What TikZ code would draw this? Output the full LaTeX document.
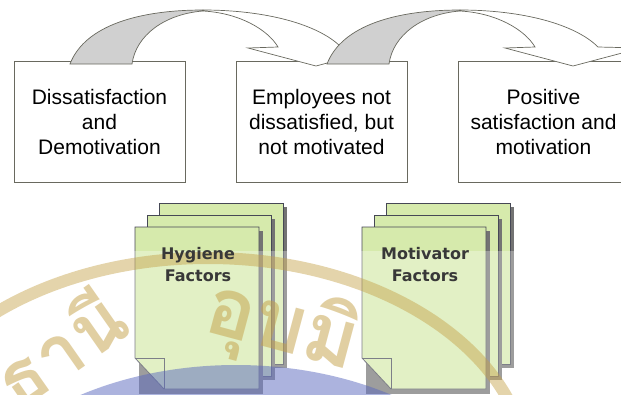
\documentclass[tikz,border=0pt]{standalone}
\usepackage{fontspec}
\setmainfont{Liberation Sans}
\newfontfamily\factorfont{DejaVu Sans}
\newfontfamily\thaifont[Script=Thai]{Loma}

\definecolor{edgegray}{RGB}{105,105,95}
\definecolor{backgray}{RGB}{208,208,208}
\definecolor{pagegreen}{RGB}{214,234,172}
\definecolor{pageline}{RGB}{70,72,85}
\definecolor{sealtan}{RGB}{196,160,70}
\definecolor{sealblue}{RGB}{90,105,190}

\begin{document}
\begin{tikzpicture}[x=1pt, y=-1pt,
  stage/.style={draw=edgegray, line width=1pt, fill=white, minimum width=171pt,
    minimum height=121pt, inner sep=0pt, align=center,
    font=\fontsize{21}{25}\selectfont},
  curvearrow/.style={draw=edgegray, line width=0.7pt},
  sheet/.style={draw=pageline, line width=0.8pt, fill=pagegreen},
  sheetshadow/.style={fill=black!55},
  factor/.style={align=center, text=black!78,
    font=\factorfont\bfseries\fontsize{16}{22}\selectfont},
  seal/.style={text=sealtan, opacity=.5, font=\thaifont\bfseries\fontsize{#1}{#1}\selectfont}]
  \useasboundingbox (0,0) rectangle (621,394);
  \clip (0,0) rectangle (621,394);

  % the three stages
  \node[stage] (dis) at (99.5,121.5) {Dissatisfaction\\and\\Demotivation};
  \node[stage] (neutral) at (321.5,121.5) {Employees not\\dissatisfied, but\\not motivated};
  \node[stage] (pos) at (543.5,121.5) {Positive\\satisfaction and\\motivation};

  % bent arrows over the stages
  \foreach \s in {0,257} {
    \begin{scope}[xshift=\s pt]
      \filldraw[curvearrow, fill=backgray] (70,64) .. controls (85,25) and (140,10) .. (203,10)
        -- (203,11) .. controls (165,14) and (136,35) .. (132,64) -- cycle;
      \filldraw[curvearrow, fill=white] (203,10) .. controls (265,10) and (318,24) .. (341,47)
        -- (384,48) -- (316,66) -- (248,48) -- (278,47)
        .. controls (268,30) and (240,13) .. (203,11) -- cycle;
    \end{scope}
  }

  % stacks of sheets
  \foreach \s in {0,227} {
    \begin{scope}[xshift=\s pt]
      \fill[sheetshadow] (163,207) rectangle (287,368);
      \filldraw[sheet] (159,203) rectangle (283,364);
      \fill[sheetshadow] (151,219) rectangle (275,380);
      \filldraw[sheet] (147,215) rectangle (271,376);
      \fill[sheetshadow] (139,231) rectangle (263,394);
      \filldraw[sheet] (135,227) -- (259,227) -- (259,389) -- (164,389) -- (135,358) -- cycle;
      \draw[pageline, line width=0.8pt] (135,358) -- (164,358) -- (164,389);
    \end{scope}
  }

  % faded seal laid over the lower part
  \fill[white, opacity=.3] (0,251) rectangle (621,394);
  \draw[sealtan, opacity=.45, line width=12pt] (208,475) ellipse [x radius=320, y radius=217];
  \fill[sealblue, opacity=.5] (236,566) ellipse [x radius=296, y radius=201];
  \node[seal=76, rotate=35] (left) at (58,346) {ธานี};
  \node[seal=82, rotate=-15] (mid) at (282,328) {อุบมิ};

  \node[factor] (hygiene) at (198,265) {Hygiene\\Factors};
  \node[factor] (motivator) at (425,265) {Motivator\\Factors};
\end{tikzpicture}
\end{document}
